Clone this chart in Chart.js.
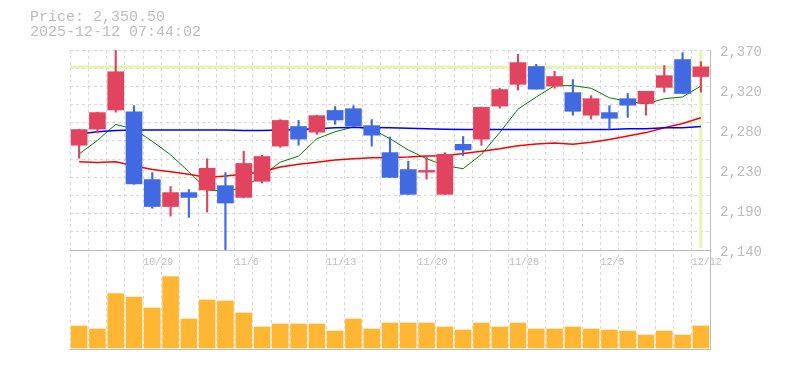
<!DOCTYPE html>
<html>
<head>
<meta charset="utf-8">
<script src="https://cdn.jsdelivr.net/npm/chart.js@4.4.1/dist/chart.umd.min.js"></script>
<style>
  html, body { margin: 0; padding: 0; background: #fff; }
</style>
</head>
<body>
<canvas id="chart" width="785" height="370"></canvas>
<script>
const UP = "#e2445f";
const DOWN = "#4169e1";
const VOL = "#ffb733";
const GRID = "#d8d8d8";
const AXIS = "#bdbdbd";
const TEXT = "#bdbdbd";
const CROSS = "#e3f5b2";
const MONO = "'Liberation Mono', 'DejaVu Sans Mono', monospace";

const LAST_PRICE = 2350.5;
const STAMP = "2025-12-12 07:44:02";

const DATES = [
  "10/23", "10/24", "10/27", "10/28", "10/29", "10/30", "10/31",
  "11/4", "11/5", "11/6", "11/7", "11/10", "11/11", "11/12", "11/13",
  "11/14", "11/17", "11/18", "11/19", "11/20", "11/21", "11/25",
  "11/26", "11/27", "11/28", "12/1", "12/2", "12/3", "12/4", "12/5",
  "12/8", "12/9", "12/10", "12/11", "12/12",
];
const X_TICKS = ["10/29", "11/6", "11/13", "11/20", "11/28", "12/5", "12/12"];
const Y_TICKS = [2140, 2186, 2232, 2278, 2324, 2370];

const OPEN = [
  2260.5, 2279, 2301, 2299, 2221, 2190, 2206, 2209, 2214, 2200.5, 2219,
  2259.5, 2282, 2275.5, 2300.5, 2302.5, 2283, 2252, 2232.5, 2229.5, 2204,
  2261.5, 2267.5, 2305.5, 2330.5, 2351, 2328.5, 2321, 2295, 2298, 2314,
  2308.5, 2327, 2359, 2339.5,
];
const HIGH = [
  2279, 2298.5, 2369.5, 2306, 2229, 2213, 2209.5, 2245, 2229, 2253.5, 2249,
  2290, 2289, 2295, 2305, 2306, 2290, 2270, 2242, 2248.5, 2252, 2270.5,
  2304.5, 2326, 2365, 2353.5, 2345.5, 2336, 2317.5, 2306, 2320, 2322.5,
  2352, 2367, 2356.5,
];
const LOW = [
  2245.5, 2274.5, 2298.5, 2215.5, 2188, 2179, 2177.5, 2183.5, 2140.5, 2200,
  2217, 2258, 2260.5, 2273, 2284.5, 2282, 2259.5, 2223.5, 2204, 2221.5,
  2204, 2248.5, 2260.5, 2303, 2324, 2325, 2326, 2295, 2290.5, 2279, 2292.5,
  2295, 2321.5, 2320, 2321.5,
];
const CLOSE = [
  2278.5, 2298, 2345, 2216, 2190, 2206, 2200.5, 2234, 2194, 2239.5, 2247.5,
  2289, 2267.5, 2294.5, 2289.5, 2282.5, 2272, 2223.5, 2204, 2231.5, 2250,
  2255, 2304, 2324.5, 2355.5, 2325, 2339.5, 2299.5, 2314, 2291.5, 2306.5,
  2322.5, 2340.5, 2320, 2350.5,
];

// moving averages
const MA_SHORT = [
  2250.5, 2266, 2284.5, 2279, 2265, 2249.5, 2230, 2209, 2207.5, 2212,
  2225.5, 2241, 2248, 2268, 2276, 2281.5, 2279, 2268, 2255, 2245, 2237,
  2233.5, 2250, 2275, 2302, 2316, 2329, 2329, 2326, 2315, 2311, 2308,
  2314, 2316, 2328.5,
];
const MA_MID = [
  2241.5, 2240.5, 2241.5, 2237, 2232.5, 2230, 2227, 2223.5, 2225, 2227,
  2230, 2235.5, 2238.5, 2241, 2243.5, 2245, 2246, 2246.5, 2247, 2248,
  2248.5, 2251, 2253.5, 2256.5, 2260, 2262, 2263, 2261.5, 2264, 2267,
  2271, 2275, 2280.5, 2285.5, 2292,
];
const MA_LONG = [
  2273.5, 2276, 2277.5, 2278, 2278, 2278, 2278, 2278, 2278, 2277.5,
  2277.5, 2278, 2278.5, 2279.5, 2280.5, 2281, 2281, 2280.5, 2280, 2279.5,
  2279, 2278.5, 2278.5, 2278.5, 2278.5, 2278.5, 2278.5, 2278.5, 2278.5,
  2278.5, 2279.5, 2279.5, 2280.5, 2280.5, 2282,
];

const VOLUME = [
  220, 190, 543, 510, 400, 713, 290, 480, 470, 350, 210, 240, 240, 240,
  170, 290, 190, 250, 250, 250, 210, 180, 250, 210, 250, 190, 190, 210,
  190, 180, 170, 130, 170, 130, 220,
];

const PRICE_MIN = 2140;
const PRICE_MAX = 2370;
const GRID_STEPS = 11;

const candleColor = OPEN.map((o, i) => (CLOSE[i] >= o ? UP : DOWN));
const fmtPrice = (v) =>
  v.toLocaleString("en-US", { minimumFractionDigits: 2, maximumFractionDigits: 2 });

// current price cross, placed through the chart scales
const crosshair = {
  id: "crosshair",
  beforeDatasetsDraw(chart) {
    const { ctx, chartArea, scales } = chart;
    const y = scales.yp.getPixelForValue(LAST_PRICE);
    const x = scales.x.getPixelForValue(DATES.length - 1);
    ctx.save();
    ctx.strokeStyle = CROSS;
    ctx.lineWidth = 3;
    ctx.beginPath();
    ctx.moveTo(chartArea.left, y);
    ctx.lineTo(chartArea.right, y);
    ctx.moveTo(x, scales.yp.top);
    ctx.lineTo(x, scales.yp.bottom - 2);
    ctx.stroke();
    ctx.restore();
  },
};

const maLine = (data, color, width) => ({
  type: "line",
  data,
  yAxisID: "yp",
  borderColor: color,
  borderWidth: width,
  pointRadius: 0,
  tension: 0,
  order: 4,
});

Chart.defaults.font.family = MONO;

new Chart(document.getElementById("chart"), {
  data: {
    labels: DATES,
    datasets: [
      {
        type: "bar",
        data: VOLUME,
        yAxisID: "yvR",
        backgroundColor: VOL,
        barThickness: 16,
        grouped: false,
        order: 5,
      },
      maLine(MA_LONG, "#0000ff", 1.5),
      maLine(MA_MID, "#ff0000", 1.5),
      maLine(MA_SHORT, "#008000", 1),
      {
        type: "bar",
        data: LOW.map((l, i) => [l, HIGH[i]]),
        yAxisID: "yp",
        backgroundColor: candleColor,
        barThickness: 1.5,
        grouped: false,
        order: 3,
      },
      {
        type: "bar",
        data: OPEN.map((o, i) => [o, CLOSE[i]]),
        yAxisID: "yp",
        backgroundColor: candleColor,
        barThickness: 16,
        grouped: false,
        order: 2,
      },
    ],
  },
  plugins: [crosshair],
  options: {
    responsive: false,
    animation: false,
    events: [],
    devicePixelRatio: 1,
    layout: { padding: { left: 30 } },
    plugins: {
      legend: { display: false },
      tooltip: { enabled: false },
      title: {
        display: true,
        align: "start",
        color: TEXT,
        text: [`Price: ${fmtPrice(LAST_PRICE)}`, STAMP],
        font: { family: MONO, size: 15, weight: "normal", lineHeight: 1 },
        padding: { top: 10, bottom: 10 },
      },
    },
    scales: {
      x: {
        type: "category",
        position: "bottom",
        offset: true,
        grid: { color: GRID, offset: true, drawTicks: false },
        border: { color: AXIS, width: 1, dash: [3, 3] },
        ticks: { display: false },
        afterFit: (s) => { s.height = 21; },
      },
      xl: {
        type: "category",
        position: { yp: PRICE_MIN },
        offset: true,
        grid: { display: false, drawTicks: false },
        border: { color: AXIS, width: 1 },
        ticks: {
          color: TEXT,
          font: { family: MONO, size: 10 },
          align: "start",
          labelOffset: -9,
          padding: 6,
          autoSkip: false,
          maxRotation: 0,
          callback: (v, i) => (X_TICKS.includes(DATES[i]) ? DATES[i] : ""),
        },
      },
      yg: {
        type: "linear",
        position: "left",
        stack: "L",
        stackWeight: 200,
        weight: 1,
        min: PRICE_MIN,
        max: PRICE_MAX,
        afterBuildTicks: (s) => {
          s.ticks = Array.from({ length: GRID_STEPS + 1 }, (_, k) => ({
            value: PRICE_MIN + (k * (PRICE_MAX - PRICE_MIN)) / GRID_STEPS,
          }));
        },
        grid: { color: GRID, drawTicks: false },
        border: { display: false, dash: [3, 3] },
        ticks: { display: false },
        afterFit: (s) => { s.width = 40; },
      },
      yvL: {
        type: "linear",
        position: "left",
        stack: "L",
        stackWeight: 99,
        weight: 0,
        min: 0,
        max: 1,
        grid: { display: false, drawTicks: false },
        border: { display: false },
        ticks: { display: false },
        afterFit: (s) => { s.width = 40; },
      },
      yp: {
        type: "linear",
        position: "right",
        stack: "R",
        stackWeight: 200,
        weight: 0,
        min: PRICE_MIN,
        max: PRICE_MAX,
        afterBuildTicks: (s) => { s.ticks = Y_TICKS.map((value) => ({ value })); },
        grid: { display: false, drawTicks: false },
        border: { color: AXIS, width: 1 },
        ticks: {
          color: TEXT,
          font: { family: MONO, size: 14 },
          padding: 10,
          labelOffset: 2,
          callback: (v) => (Math.round(v / 10) * 10).toLocaleString("en-US"),
        },
        afterFit: (s) => { s.width = 75; },
      },
      yvR: {
        type: "linear",
        position: "right",
        stack: "R",
        stackWeight: 99,
        weight: 1,
        min: -10,
        max: 980,
        grid: { display: false, drawTicks: false },
        border: { color: AXIS, width: 1 },
        ticks: { display: false },
        afterFit: (s) => { s.width = 75; },
      },
    },
  },
});
</script>
</body>
</html>
